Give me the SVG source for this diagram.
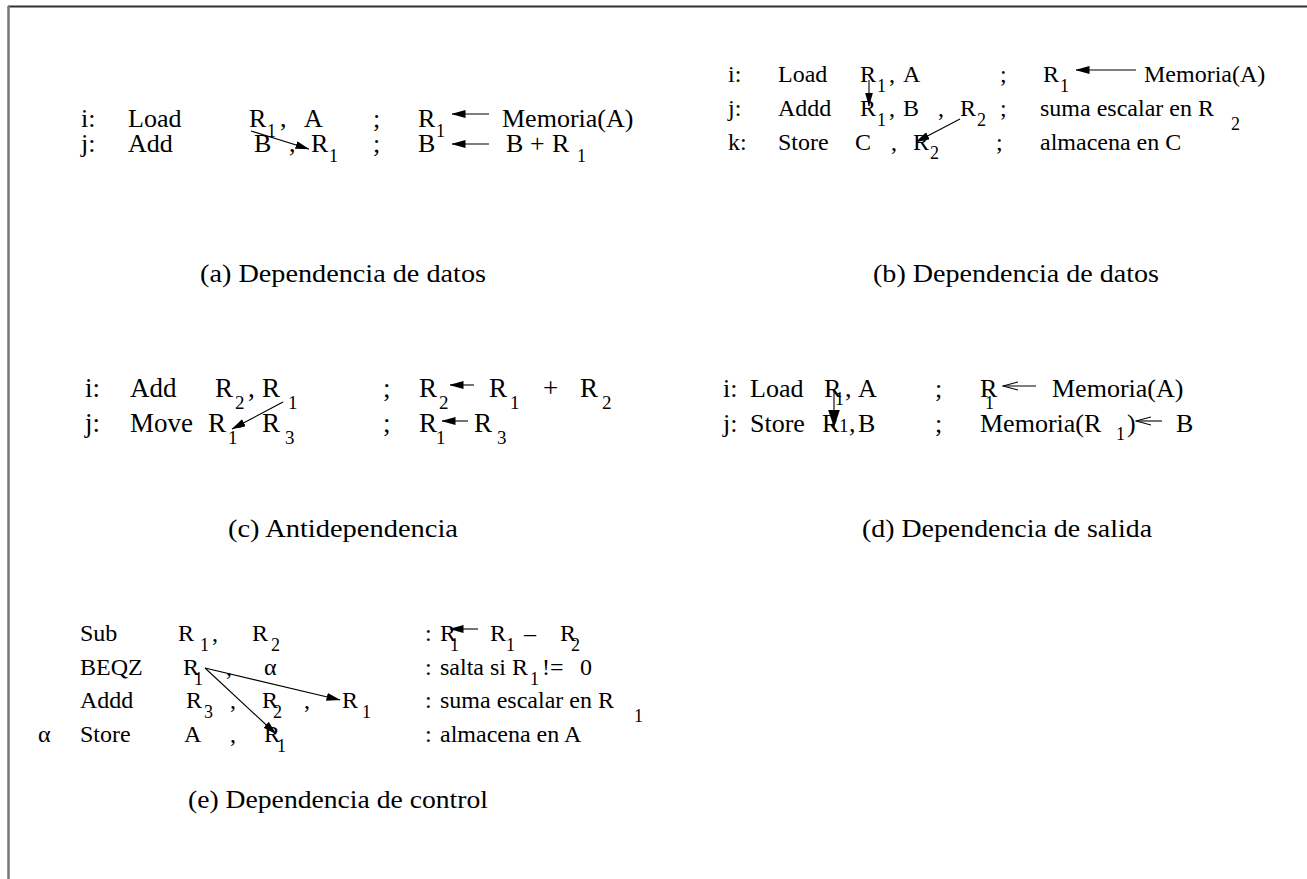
<svg xmlns="http://www.w3.org/2000/svg" width="1307" height="879" viewBox="0 0 1307 879" font-family="'Liberation Serif', 'Times New Roman', 'DejaVu Serif', serif">
<defs>
<style>
text{font-family:'Liberation Serif','Times New Roman','DejaVu Serif','Noto Serif',serif;fill:#000}
.a{font-size:26px}.b{font-size:24px}.c{font-size:27px}.d{font-size:26px}.e{font-size:24px}
.s{font-size:18px}.s2{font-size:19px}
.cap{font-size:25px}
.ln{stroke:#000;stroke-width:1.1;fill:none}
</style>
<marker id="fa" viewBox="0 0 14 8" markerWidth="14" markerHeight="8" refX="13.5" refY="4" orient="auto" markerUnits="userSpaceOnUse"><path d="M0,0 L14,4 L0,8 z" fill="#000"/></marker>
<marker id="fb" viewBox="0 0 12 18" markerWidth="12" markerHeight="18" refX="6" refY="17.5" orient="0" markerUnits="userSpaceOnUse"><path d="M0,0 L12,0 L6,18 z" fill="#000"/></marker>
<marker id="op" viewBox="0 0 16 10" markerWidth="16" markerHeight="10" refX="15" refY="5" orient="auto" markerUnits="userSpaceOnUse"><path d="M0,1 L15,5 L0,9" fill="none" stroke="#000" stroke-width="1.1"/></marker>
</defs>
<rect width="1307" height="879" fill="#fff"/>
<g id="frame">
<line x1="8" y1="6.5" x2="1307" y2="6.5" stroke="#333" stroke-width="2"/>
<line x1="8.5" y1="6" x2="8.5" y2="879" stroke="#777" stroke-width="2.5"/>
</g>

<g id="panel-a">
<text x="81" y="127" class="a">i:</text><text x="128" y="127" class="a">Load</text>
<text x="249" y="127" class="a">R</text><text x="267" y="137" class="s">1</text><text x="280" y="127" class="a">,</text>
<text x="304" y="127" class="a">A</text><text x="373" y="127" class="a">;</text>
<text x="418" y="127" class="a">R</text><text x="436" y="137" class="s">1</text>
<text x="502" y="127" class="a">Memoria(A)</text>
<text x="81" y="152" class="a">j:</text><text x="128" y="152" class="a">Add</text>
<text x="254" y="152" class="a">B</text><text x="289" y="152" class="a">,</text>
<text x="311" y="152" class="a">R</text><text x="329" y="162" class="s">1</text>
<text x="373" y="152" class="a">;</text><text x="418" y="152" class="a">B</text>
<text x="506" y="152" class="a">B</text><text x="530" y="152" class="a">+</text>
<text x="552" y="152" class="a">R</text><text x="577" y="162" class="s">1</text>
<text x="200" y="282" class="cap" textLength="286" lengthAdjust="spacingAndGlyphs">(a) Dependencia de datos</text>
</g>

<g id="panel-b">
<text x="728" y="82" class="b">i:</text><text x="778" y="82" class="b">Load</text>
<text x="860" y="82" class="b">R</text><text x="877" y="92" class="s">1</text><text x="889" y="82" class="b">,</text>
<text x="903" y="82" class="b">A</text><text x="1000" y="82" class="b">;</text>
<text x="1043" y="82" class="b">R</text><text x="1060" y="92" class="s">1</text>
<text x="1144" y="82" class="b">Memoria(A)</text>
<text x="728" y="116" class="b">j:</text><text x="778" y="116" class="b">Addd</text>
<text x="860" y="116" class="b">R</text><text x="877" y="126" class="s">1</text><text x="889" y="116" class="b">,</text>
<text x="903" y="116" class="b">B</text><text x="938" y="116" class="b">,</text>
<text x="960" y="116" class="b">R</text><text x="977" y="126" class="s">2</text>
<text x="1000" y="116" class="b">;</text><text x="1040" y="116" class="b">suma escalar en R</text><text x="1231" y="130" class="s">2</text>
<text x="728" y="150" class="b">k:</text><text x="778" y="150" class="b">Store</text>
<text x="855" y="150" class="b">C</text><text x="891" y="150" class="b">,</text>
<text x="913" y="150" class="b">R</text><text x="930" y="159" class="s">2</text>
<text x="996" y="150" class="b">;</text><text x="1040" y="150" class="b">almacena en C</text>
<text x="873" y="282" class="cap" textLength="286" lengthAdjust="spacingAndGlyphs">(b) Dependencia de datos</text>
</g>

<g id="panel-c">
<text x="85" y="397" class="c">i:</text><text x="130" y="397" class="c">Add</text>
<text x="215" y="397" class="c">R</text><text x="235" y="409" class="s2">2</text><text x="248" y="397" class="c">,</text>
<text x="262" y="397" class="c">R</text><text x="288" y="409" class="s2">1</text>
<text x="383" y="397" class="c">;</text>
<text x="419" y="397" class="c">R</text><text x="439" y="409" class="s2">2</text>
<text x="489" y="397" class="c">R</text><text x="510" y="409" class="s2">1</text>
<text x="543" y="397" class="c">+</text>
<text x="580" y="397" class="c">R</text><text x="602" y="409" class="s2">2</text>
<text x="85" y="432" class="c">j:</text><text x="130" y="432" class="c">Move</text>
<text x="208" y="432" class="c">R</text><text x="228" y="444" class="s2">1</text><text x="238" y="424" class="c">,</text>
<text x="262" y="432" class="c">R</text><text x="285" y="444" class="s2">3</text>
<text x="383" y="432" class="c">;</text>
<text x="419" y="432" class="c">R</text><text x="436" y="444" class="s2">1</text>
<text x="474" y="432" class="c">R</text><text x="497" y="444" class="s2">3</text>
<text x="228" y="537" class="cap" textLength="230" lengthAdjust="spacingAndGlyphs">(c) Antidependencia</text>
</g>

<g id="panel-d">
<text x="723" y="397" class="d">i:</text><text x="750" y="397" class="d">Load</text>
<text x="824" y="397" class="d">R</text><text x="835" y="405" class="s">1</text><text x="845" y="397" class="d">,</text>
<text x="858" y="397" class="d">A</text><text x="935" y="397" class="d">;</text>
<text x="980" y="397" class="d">R</text><text x="985" y="409" class="s">1</text>
<text x="1052" y="397" class="d">Memoria(A)</text>
<text x="723" y="432" class="d">j:</text><text x="750" y="432" class="d">Store</text>
<text x="822" y="432" class="d">R</text><text x="839" y="432" class="s2">1</text><text x="849" y="432" class="d">,</text>
<text x="858" y="432" class="d">B</text><text x="935" y="432" class="d">;</text>
<text x="980" y="432" class="d">Memoria(R</text><text x="1116" y="440" class="s">1</text><text x="1127" y="432" class="d">)</text>
<text x="1176" y="432" class="d">B</text>
<text x="862" y="537" class="cap" textLength="290" lengthAdjust="spacingAndGlyphs">(d) Dependencia de salida</text>
</g>

<g id="panel-e">
<text x="80" y="641" class="e">Sub</text>
<text x="178" y="641" class="e">R</text><text x="200" y="651" class="s">1</text><text x="212" y="641" class="e">,</text>
<text x="252" y="641" class="e">R</text><text x="271" y="651" class="s">2</text>
<text x="425" y="641" class="e">:</text><text x="440" y="641" class="e">R</text><text x="450" y="651" class="s">1</text>
<text x="490" y="641" class="e">R</text><text x="506" y="651" class="s">1</text>
<text x="524" y="641" class="e">–</text>
<text x="560" y="641" class="e">R</text><text x="571" y="651" class="s">2</text>
<text x="80" y="675" class="e">BEQZ</text>
<text x="183" y="675" class="e">R</text><text x="194" y="685" class="s">1</text><text x="226" y="675" class="e">,</text>
<text x="264" y="675" class="e">α</text>
<text x="425" y="675" class="e">:</text><text x="440" y="675" class="e">salta si R</text><text x="530" y="685" class="s">1</text>
<text x="542" y="675" class="e">!=</text><text x="580" y="675" class="e">0</text>
<text x="80" y="708" class="e">Addd</text>
<text x="186" y="708" class="e">R</text><text x="204" y="718" class="s">3</text><text x="230" y="708" class="e">,</text>
<text x="262" y="708" class="e">R</text><text x="273" y="718" class="s">2</text><text x="304" y="708" class="e">,</text>
<text x="342" y="708" class="e">R</text><text x="362" y="718" class="s">1</text>
<text x="425" y="708" class="e">:</text><text x="440" y="708" class="e">suma escalar en R</text><text x="634" y="722" class="s">1</text>
<text x="38" y="742" class="e">α</text>
<text x="80" y="742" class="e">Store</text>
<text x="184" y="742" class="e">A</text><text x="230" y="742" class="e">,</text>
<text x="264" y="742" class="e">R</text><text x="277" y="752" class="s">1</text>
<text x="425" y="742" class="e">:</text><text x="440" y="742" class="e">almacena en A</text>
<text x="188" y="808" class="cap" textLength="300" lengthAdjust="spacingAndGlyphs">(e) Dependencia de control</text>
</g>

<g id="connectors">
<line class="ln" x1="489" y1="114" x2="452" y2="114" marker-end="url(#fa)"/>
<line class="ln" x1="489" y1="144" x2="452" y2="144" marker-end="url(#fa)"/>
<line class="ln" x1="251" y1="131" x2="309" y2="149" marker-end="url(#fa)"/>
<line class="ln" x1="1136" y1="70" x2="1076" y2="70" marker-end="url(#fa)"/>
<line class="ln" x1="869" y1="80" x2="869" y2="106" marker-end="url(#fa)"/>
<line class="ln" x1="960" y1="119" x2="916" y2="142" marker-end="url(#fa)"/>
<line class="ln" x1="474" y1="385" x2="450" y2="385" marker-end="url(#fa)"/>
<line class="ln" x1="468" y1="421" x2="442" y2="421" marker-end="url(#fa)"/>
<line class="ln" x1="283" y1="402" x2="232" y2="429" marker-end="url(#fa)"/>
<line class="ln" x1="834" y1="389" x2="834" y2="427" marker-end="url(#fb)"/>
<line class="ln" x1="1036" y1="386" x2="1003" y2="386" marker-end="url(#op)"/>
<line class="ln" x1="1162" y1="421" x2="1136" y2="421" marker-end="url(#op)"/>
<line class="ln" x1="478" y1="629" x2="450" y2="629" marker-end="url(#fa)"/>
<line class="ln" x1="205" y1="668" x2="340" y2="700" marker-end="url(#fa)"/>
<line class="ln" x1="205" y1="668" x2="276" y2="734" marker-end="url(#fa)"/>
</g>
</svg>
